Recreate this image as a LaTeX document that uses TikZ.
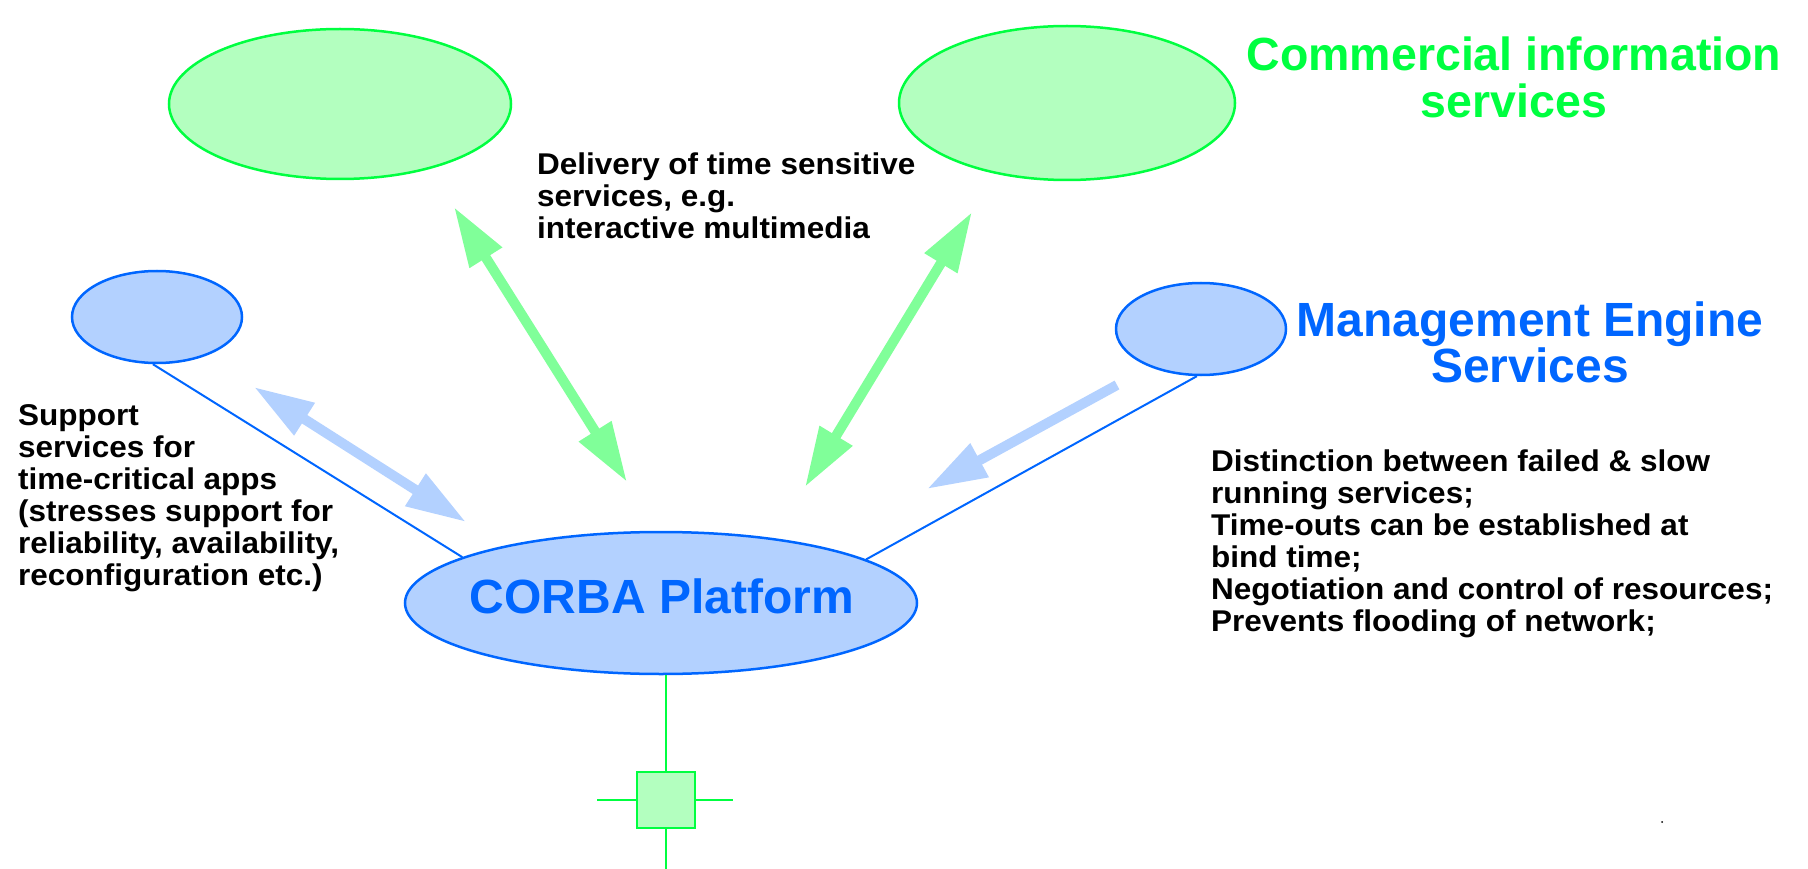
\documentclass[tikz,border=0pt]{standalone}
\usepackage{fontspec}
\setmainfont{Liberation Sans}
\newfontfamily\widesans[FakeStretch=1.05]{Liberation Sans}
\usetikzlibrary{arrows.meta}
\usetikzlibrary{shapes.geometric}
\definecolor{palegreen}{RGB}{179,255,191}
\definecolor{brightgreen}{RGB}{0,255,64}
\definecolor{mintgreen}{RGB}{128,255,153}
\definecolor{paleblue}{RGB}{179,209,255}
\definecolor{strongblue}{RGB}{0,102,255}

\tikzset{
  greencloud/.style={ellipse, draw=brightgreen, fill=palegreen, line width=2.5pt, inner sep=0pt},
  bluecloud/.style={ellipse, draw=strongblue, fill=paleblue, line width=2.5pt, inner sep=0pt},
  headtext/.style={font=\fontsize{48}{46}\selectfont\bfseries, align=center, inner sep=0pt},
  notetext/.style={font=\widesans\fontsize{30}{32}\selectfont\bfseries, align=left, inner sep=0pt, anchor=north west},
  fatarrow/.style={line width=10pt, arrows={Triangle[length=60pt,width=36pt]-Triangle[length=60pt,width=36pt]}},
  oneway/.style={line width=10pt, arrows={-Triangle[length=60pt,width=36pt]}},
}

\begin{document}
\begin{tikzpicture}[x=1pt,y=-1pt]
\useasboundingbox (0,0) rectangle (1808,869);

%% service clouds
\node [greencloud, minimum width=342pt, minimum height=150pt] (infoleft)  at (340,104)  {};
\node [greencloud, minimum width=336pt, minimum height=154pt] (inforight) at (1067,103) {};
\node [bluecloud, minimum width=170pt, minimum height=92pt]   (support)   at (157,317)  {};
\node [bluecloud, minimum width=170pt, minimum height=92pt]   (engine)    at (1201,329) {};
\node [bluecloud, minimum width=512pt, minimum height=142pt]  (corba)     at (661,603)  {};
\node [headtext, strongblue, anchor=base] (corbaname) at (662,613) {CORBA Platform};

%% links to the platform
\draw [strongblue, line width=2pt] (support.-95) -- (corba.167);
\draw [strongblue, line width=2pt] (engine.-95) -- (corba.12);

%% arrows
% green, both ways
\coordinate (gla) at (454,207);
\coordinate (glb) at (627,482);
\coordinate (gra) at (972,212);
\coordinate (grb) at (805,487);
\draw [fatarrow, mintgreen] (gla) -- (glb);
\draw [fatarrow, mintgreen] (gra) -- (grb);
% blue
\coordinate (bla) at (254,387);
\coordinate (blb) at (466,522);
\coordinate (bra) at (1117,385);
\coordinate (brb) at (927,489);
\draw [fatarrow, paleblue] (bla) -- (blb);
\draw [oneway, paleblue] (bra) -- (brb);

%% network stub below the platform
\node [draw=brightgreen, fill=palegreen, line width=2.5pt, minimum width=58pt, minimum height=56pt, inner sep=0pt] (port) at (666,800) {};
\coordinate (stubl) at (597,800);
\coordinate (stubr) at (733,800);
\coordinate (stubd) at (666,869);
\draw [brightgreen, line width=2.5pt] (port.north) -- (port.north |- corba.south);
\draw [brightgreen, line width=2.5pt] (port.west) -- (stubl);
\draw [brightgreen, line width=2.5pt] (port.east) -- (stubr);
\draw [brightgreen, line width=2.5pt] (port.south) -- (stubd);

%% labels
\node [headtext, brightgreen, anchor=north, font=\fontsize{46.5}{47}\selectfont\bfseries] (infotitle) at (1514,37) {Commercial information\\services};
\node [headtext, strongblue, anchor=north, font=\fontsize{48}{43}\selectfont\bfseries] (enginetitle) at (1530,302) {Management Engine\\Services};
\node [notetext] (delivery) at (537,153) {Delivery of time sensitive\\services, e.g.\\interactive multimedia};
\node [notetext] (supportnote) at (18,404) {Support\\services for\\time-critical apps\\(stresses support for\\reliability, availability,\\reconfiguration etc.)};
\node [notetext] (enginenote) at (1211,450) {Distinction between failed \& slow\\running services;\\Time-outs can be established at\\bind time;\\Negotiation and control of resources;\\Prevents flooding of network;};
\fill (1662,822) circle (1pt);

\end{tikzpicture}
\end{document}
